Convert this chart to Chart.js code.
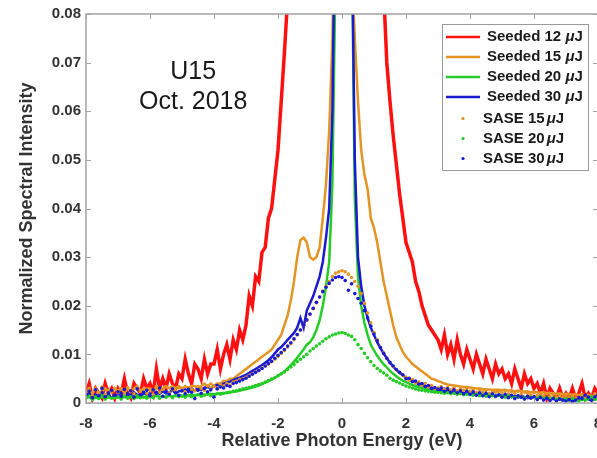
<!DOCTYPE html>
<html>
<head>
<meta charset="utf-8">
<script src="https://cdn.jsdelivr.net/npm/chart.js@4.4.1/dist/chart.umd.min.js"></script>
<style>
html,body{margin:0;padding:0;background:#fff;overflow:hidden;}
#wrap{position:relative;width:602px;height:458px;}
</style>
</head>
<body>
<div id="wrap"><canvas id="c"></canvas></div>
<script>
// ---- data ----
const energy = [
-8,-7.9,-7.8,-7.7,-7.6,-7.5,-7.4,-7.3,-7.2,-7.1,
-7,-6.9,-6.8,-6.7,-6.6,-6.5,-6.4,-6.3,-6.2,-6.1,
-6,-5.9,-5.8,-5.7,-5.6,-5.5,-5.4,-5.3,-5.2,-5.1,
-5,-4.9,-4.8,-4.7,-4.6,-4.5,-4.4,-4.3,-4.2,-4.1,
-4,-3.9,-3.8,-3.7,-3.6,-3.5,-3.4,-3.3,-3.2,-3.1,
-3,-2.9,-2.8,-2.7,-2.6,-2.5,-2.4,-2.3,-2.2,-2.1,
-2,-1.9,-1.8,-1.7,-1.6,-1.5,-1.4,-1.3,-1.2,-1.1,
-1,-0.9,-0.8,-0.7,-0.6,-0.5,-0.4,-0.3,-0.2,-0.1,
0,0.1,0.2,0.3,0.4,0.5,0.6,0.7,0.8,0.9,
1,1.1,1.2,1.3,1.4,1.5,1.6,1.7,1.8,1.9,
2,2.1,2.2,2.3,2.4,2.5,2.6,2.7,2.8,2.9,
3,3.1,3.2,3.3,3.4,3.5,3.6,3.7,3.8,3.9,
4,4.1,4.2,4.3,4.4,4.5,4.6,4.7,4.8,4.9,
5,5.1,5.2,5.3,5.4,5.5,5.6,5.7,5.8,5.9,
6,6.1,6.2,6.3,6.4,6.5,6.6,6.7,6.8,6.9,
7,7.1,7.2,7.3,7.4,7.5,7.6,7.7,7.8,7.9,8];

const seeded12 = [
0.002,0.004,0.001,0.003,0.002,0.001,0.004,0.002,0.003,0.001,
0.003,0.002,0.005,0.002,0.001,0.004,0.003,0.002,0.005,0.003,
0.004,0.002,0.007,0.003,0.005,0.003,0.006,0.004,0.003,0.006,
0.005,0.009,0.006,0.004,0.008,0.007,0.005,0.009,0.006,0.008,
0.008,0.011,0.007,0.010,0.012,0.009,0.013,0.011,0.015,0.013,
0.016,0.022,0.020,0.026,0.025,0.031,0.032,0.038,0.040,0.046,
0.052,0.062,0.072,0.083,0.095,0.11,0.12,0.13,0.15,0.16,
0.18,0.19,0.2,0.21,0.22,0.23,0.24,0.25,0.25,0.26,
0.26,0.26,0.25,0.24,0.22,0.2,0.18,0.16,0.14,0.13,
0.12,0.105,0.095,0.085,0.070,0.062,0.055,0.049,0.043,0.038,
0.033,0.031,0.029,0.025,0.023,0.020,0.018,0.016,0.015,0.014,
0.013,0.011,0.014,0.010,0.012,0.009,0.013,0.010,0.008,0.011,
0.009,0.007,0.010,0.008,0.006,0.009,0.007,0.005,0.008,0.006,
0.007,0.005,0.006,0.004,0.007,0.005,0.003,0.006,0.004,0.005,
0.003,0.004,0.002,0.004,0.001,0.003,0.002,0.001,0.003,0.001,
0.002,0.001,0.003,0.001,0.002,0.004,0.001,0.002,0.001,0.003,0.002];

const seeded15 = [
0.002,0.0025,0.002,0.003,0.002,0.0025,0.003,0.002,0.0025,0.003,
0.0025,0.003,0.002,0.003,0.0025,0.003,0.0035,0.0025,0.003,0.003,
0.003,0.0025,0.0035,0.003,0.003,0.0035,0.003,0.0035,0.003,0.0035,
0.003,0.0035,0.003,0.0035,0.0035,0.003,0.0035,0.004,0.0035,0.004,
0.0035,0.004,0.004,0.0045,0.0045,0.005,0.005,0.0055,0.006,0.0065,
0.007,0.0075,0.008,0.0085,0.009,0.0095,0.010,0.0105,0.011,0.012,
0.013,0.014,0.016,0.018,0.021,0.025,0.030,0.0335,0.034,0.033,
0.030,0.0295,0.030,0.032,0.038,0.045,0.056,0.075,0.11,0.15,
0.19,0.17,0.12,0.09,0.075,0.062,0.052,0.047,0.044,0.038,
0.036,0.033,0.029,0.025,0.022,0.019,0.016,0.0135,0.012,0.0105,
0.0095,0.0088,0.008,0.0075,0.007,0.0065,0.006,0.0055,0.005,0.0048,
0.0045,0.0043,0.004,0.0038,0.0037,0.0036,0.0035,0.0034,0.0033,0.0033,
0.0032,0.0031,0.003,0.003,0.0029,0.0028,0.0028,0.0027,0.0027,0.0027,
0.0026,0.0027,0.0025,0.0026,0.0024,0.0025,0.0024,0.0023,0.0024,0.0022,
0.0023,0.0022,0.0021,0.0022,0.002,0.0021,0.002,0.0019,0.002,0.0018,
0.0019,0.0018,0.0017,0.0018,0.0016,0.0017,0.0015,0.0016,0.0015,0.0014,0.0015];

const seeded20 = [
0.001,0.0012,0.0008,0.0011,0.001,0.0013,0.0009,0.0012,0.001,0.0011,
0.0012,0.001,0.0013,0.0011,0.0012,0.0014,0.0011,0.0013,0.0012,0.0014,
0.0013,0.0012,0.0015,0.0013,0.0014,0.0013,0.0015,0.0014,0.0015,0.0016,
0.0015,0.0016,0.0015,0.0017,0.0016,0.0017,0.0018,0.0017,0.0018,0.0019,
0.0018,0.0019,0.002,0.002,0.0021,0.0022,0.0023,0.0024,0.0025,0.0027,
0.0028,0.003,0.0032,0.0034,0.0036,0.0039,0.0042,0.0045,0.0048,0.0052,
0.0056,0.006,0.0065,0.0071,0.0078,0.0085,0.0093,0.0102,0.011,0.012,
0.0125,0.0135,0.015,0.017,0.020,0.024,0.029,0.045,0.09,0.15,
0.2,0.2,0.17,0.10,0.042,0.026,0.020,0.0165,0.014,0.012,
0.0108,0.0097,0.0088,0.008,0.0073,0.0066,0.006,0.0055,0.005,0.0046,
0.0043,0.004,0.0037,0.0035,0.0033,0.0031,0.0029,0.0028,0.0027,0.0026,
0.0025,0.0024,0.0023,0.0022,0.0022,0.0021,0.002,0.002,0.0019,0.0019,
0.0018,0.0018,0.0017,0.0018,0.0017,0.0016,0.0017,0.0016,0.0015,0.0016,
0.0015,0.0014,0.0015,0.0014,0.0013,0.0014,0.0013,0.0012,0.0013,0.0012,
0.0012,0.0011,0.0012,0.001,0.0011,0.001,0.0009,0.001,0.0009,0.0008,
0.0009,0.0008,0.0007,0.0008,0.0007,0.0006,0.0007,0.0008,0.0006,0.0007,0.0008];

const seeded30 = [
0.0015,0.002,0.001,0.0018,0.0012,0.0022,0.0014,0.0019,0.001,0.0017,
0.0016,0.0021,0.0013,0.0019,0.0015,0.0022,0.0017,0.0014,0.002,0.0018,
0.002,0.0016,0.0023,0.0019,0.0024,0.002,0.0022,0.0026,0.002,0.0024,
0.0025,0.0028,0.0023,0.0029,0.0026,0.003,0.0027,0.0031,0.0033,0.003,
0.0034,0.0037,0.0036,0.004,0.0042,0.0044,0.0047,0.005,0.0052,0.0055,
0.0058,0.0062,0.0066,0.007,0.0074,0.0078,0.0083,0.0088,0.0094,0.0102,
0.011,0.0115,0.0122,0.013,0.0137,0.0144,0.0155,0.0175,0.0155,0.019,
0.0205,0.022,0.024,0.026,0.029,0.034,0.040,0.060,0.11,0.18,
0.22,0.2,0.15,0.10,0.05,0.030,0.024,0.020,0.0175,0.0155,
0.014,0.0125,0.0113,0.0102,0.0092,0.0083,0.0075,0.0068,0.0062,0.0057,
0.0052,0.0048,0.0045,0.0042,0.0039,0.0037,0.0035,0.0033,0.0031,0.003,
0.0028,0.0027,0.003,0.0025,0.0024,0.0026,0.0022,0.0023,0.002,0.0022,
0.002,0.0018,0.0021,0.0017,0.0019,0.0015,0.0018,0.0016,0.0014,0.0017,
0.0015,0.0013,0.0016,0.0012,0.0014,0.0011,0.0015,0.0012,0.001,0.0013,
0.0011,0.0009,0.0012,0.0008,0.001,0.0007,0.0009,0.0006,0.0008,0.0007,
0.0005,0.0008,0.0004,0.0006,0.0009,0.0012,0.0015,0.0008,0.0005,0.0011,0.0014];

const sase15 = [
0.0025,0.003,0.0015,0.0028,0.002,0.0033,0.0018,0.0026,0.0022,0.003,
0.0021,0.0029,0.0017,0.0032,0.0024,0.0019,0.0031,0.0023,0.0027,0.002,
0.0026,0.0018,0.003,0.0022,0.0028,0.0033,0.0021,0.0027,0.0025,0.0031,
0.0027,0.0023,0.0032,0.0028,0.0025,0.0034,0.003,0.0026,0.0035,0.0031,
0.0034,0.003,0.0038,0.0035,0.004,0.0037,0.0043,0.0045,0.0048,0.005,
0.0053,0.0057,0.006,0.0064,0.0067,0.0072,0.0076,0.008,0.0085,0.009,
0.0096,0.0102,0.0108,0.0115,0.0122,0.013,0.014,0.015,0.016,0.017,
0.0182,0.0194,0.0206,0.0218,0.023,0.024,0.025,0.026,0.0267,0.027,
0.0272,0.027,0.0265,0.0258,0.025,0.024,0.0225,0.0205,0.0185,0.0165,
0.0145,0.013,0.0115,0.0103,0.0092,0.0083,0.0075,0.0068,0.0062,0.0057,
0.0053,0.0047,0.0048,0.0041,0.0043,0.0036,0.004,0.0033,0.0036,0.003,
0.0031,0.0034,0.0028,0.0032,0.0027,0.0031,0.0025,0.0029,0.0026,0.003,
0.0024,0.0028,0.0022,0.0027,0.0023,0.0026,0.002,0.0025,0.0022,0.0024,
0.0021,0.0025,0.0019,0.0023,0.002,0.0024,0.0018,0.0022,0.002,0.0017,
0.0021,0.0016,0.002,0.0015,0.0019,0.0014,0.0018,0.0013,0.0017,0.0012,
0.0016,0.0011,0.0015,0.001,0.0014,0.0017,0.0012,0.0016,0.0011,0.0019,0.0015];

const sase20 = [
0.001,0.0014,0.0007,0.0012,0.0009,0.0015,0.0008,0.0013,0.001,0.0011,
0.0012,0.0008,0.0014,0.001,0.0013,0.0009,0.0015,0.0011,0.0012,0.001,
0.0013,0.0011,0.0015,0.001,0.0014,0.0012,0.0016,0.0011,0.0015,0.0013,
0.0014,0.0012,0.0016,0.0013,0.0015,0.0017,0.0014,0.0016,0.0018,0.0015,
0.0017,0.0019,0.0018,0.002,0.0021,0.0022,0.0024,0.0025,0.0027,0.0029,
0.003,0.0032,0.0034,0.0036,0.0038,0.004,0.0043,0.0046,0.0049,0.0052,
0.0056,0.006,0.0064,0.0069,0.0074,0.0079,0.0085,0.009,0.0095,0.01,
0.0107,0.0112,0.0117,0.0122,0.0127,0.0132,0.0136,0.014,0.0142,0.0144,
0.0145,0.0143,0.014,0.0137,0.013,0.012,0.0112,0.0102,0.0093,0.0085,
0.0077,0.0071,0.0066,0.0062,0.0057,0.0051,0.0047,0.0044,0.0041,0.0038,
0.0035,0.0033,0.0031,0.0029,0.0027,0.0026,0.0025,0.0024,0.0023,0.0022,
0.0022,0.0021,0.002,0.0021,0.0019,0.002,0.0018,0.0019,0.0017,0.0018,
0.0017,0.0016,0.0018,0.0015,0.0017,0.0014,0.0016,0.0015,0.0013,0.0016,
0.0014,0.0012,0.0015,0.0013,0.0011,0.0014,0.0012,0.001,0.0013,0.0011,
0.0012,0.001,0.0013,0.0009,0.0011,0.0008,0.001,0.0007,0.0009,0.0006,
0.0008,0.0005,0.0009,0.0007,0.0004,0.0008,0.0006,0.001,0.0012,0.0007,0.0009];

const sase30 = [
0.0018,0.0024,0.0011,0.0027,0.0015,0.003,0.0013,0.0021,0.0026,0.0016,
0.0023,0.0014,0.0028,0.0019,0.0025,0.0012,0.0029,0.0017,0.0022,0.0026,
0.0015,0.0027,0.002,0.0031,0.0014,0.0024,0.0018,0.0029,0.0021,0.0016,
0.0025,0.0019,0.0028,0.0022,0.0009,0.0026,0.002,0.003,0.0023,0.0027,
0.0012,0.0029,0.0033,0.0031,0.0036,0.0034,0.004,0.0042,0.0045,0.0048,
0.0051,0.0055,0.0059,0.0063,0.0067,0.0071,0.0076,0.0081,0.0086,0.0092,
0.0098,0.0104,0.011,0.0117,0.0124,0.0132,0.0141,0.015,0.016,0.0171,
0.0183,0.0195,0.0207,0.0218,0.0229,0.0238,0.0246,0.0253,0.0258,0.026,
0.0258,0.0252,0.0232,0.0245,0.0225,0.0215,0.0205,0.019,0.0175,0.0158,
0.0142,0.0128,0.0114,0.0102,0.0092,0.0083,0.0076,0.0069,0.0063,0.0058,
0.005,0.0051,0.0044,0.0045,0.0039,0.004,0.0034,0.0036,0.003,0.0032,
0.0028,0.0031,0.0024,0.0029,0.0022,0.0027,0.0021,0.0025,0.0019,0.0024,
0.0018,0.0023,0.0016,0.0021,0.0015,0.002,0.0013,0.0019,0.0014,0.0017,
0.0012,0.0018,0.0011,0.0016,0.0009,0.0015,0.0012,0.0008,0.0014,0.001,
0.0013,0.0007,0.0011,0.0006,0.001,0.0005,0.0009,0.0004,0.0008,0.0006,
0.0004,0.0007,0.0003,0.0006,0.0011,0.0009,0.0016,0.0012,0.0006,0.0013,0.0017];

const xTicks = [-8,-6,-4,-2,0,2,4,6,8];
const yTicks = [0,0.01,0.02,0.03,0.04,0.05,0.06,0.07,0.08];
const seriesLabels = ['Seeded 12 ','Seeded 15 ','Seeded 20 ','Seeded 30 ','SASE 15','SASE 20','SASE 30'];
const annotationLines = ['U15','Oct. 2018'];

// ---- styles ----
const C = {red:'#ff1010', orange:'#e39423', green:'#26cc26', blue:'#1a1ad2'};
const FONT = "'Liberation Sans', Arial, Helvetica, sans-serif";
const pts = vals => energy.map((x,i)=>({x:x, y:vals[i]}));
function lineDs(label, vals, color, order, w){
  return {label, data:pts(vals), showLine:true, borderColor:color, backgroundColor:color,
          borderWidth:w, pointRadius:0, order, clip:0, tension:0, isLine:true};
}
function dotDs(label, vals, color, order){
  return {label, data:pts(vals), showLine:false, backgroundColor:color, borderColor:color,
          borderWidth:0, pointRadius:1.8, order, clip:0, isLine:false};
}

const frame = {
  id:'frame',
  afterDatasetsDraw(chart){
    const {ctx, chartArea:a, scales:{x,y}} = chart;
    ctx.save();
    ctx.strokeStyle = '#a3a3a3';
    ctx.lineWidth = 1;
    const L = 5;
    xTicks.forEach(v=>{
      const px = Math.round(x.getPixelForValue(v))+0.5;
      ctx.beginPath(); ctx.moveTo(px,a.bottom); ctx.lineTo(px,a.bottom-L);
      ctx.moveTo(px,a.top); ctx.lineTo(px,a.top+L); ctx.stroke();
    });
    yTicks.forEach(v=>{
      const py = Math.round(y.getPixelForValue(v))+0.5;
      ctx.beginPath(); ctx.moveTo(a.left,py); ctx.lineTo(a.left+L,py);
      ctx.moveTo(a.right,py); ctx.lineTo(a.right-L,py); ctx.stroke();
    });
    ctx.lineWidth = 1.5;
    ctx.strokeRect(a.left, a.top, a.right-a.left, a.bottom-a.top);

    // annotation
    ctx.fillStyle = '#1a1a1a';
    ctx.font = "25px " + FONT;
    ctx.textAlign = 'center'; ctx.textBaseline = 'middle';
    const ax = x.getPixelForValue(-4.65);
    ctx.fillText(annotationLines[0], ax, y.getPixelForValue(0.0680));
    ctx.fillText(annotationLines[1], ax, y.getPixelForValue(0.0618));

    // legend
    const bw = 146, bh = 146;
    const bx = a.right - 10 - bw, by = a.top + 10;
    ctx.fillStyle = '#fff';
    ctx.fillRect(bx, by, bw, bh);
    ctx.strokeStyle = '#9a9a9a'; ctx.lineWidth = 1;
    ctx.strokeRect(bx+0.5, by+0.5, bw, bh);
    ctx.textAlign = 'left';
    chart.data.datasets.forEach((ds,i)=>{
      const ry = by + 13 + i*20 + (i>=4 ? 1.5 : 0);
      let tx;
      if (ds.isLine){
        ctx.strokeStyle = ds.borderColor; ctx.lineWidth = 2.5;
        ctx.beginPath(); ctx.moveTo(bx+4, ry); ctx.lineTo(bx+38, ry); ctx.stroke();
        tx = bx + 45;
      } else {
        ctx.fillStyle = ds.backgroundColor;
        ctx.beginPath(); ctx.arc(bx+21, ry, 1.6, 0, Math.PI*2); ctx.fill();
        tx = bx + 41;
      }
      ctx.fillStyle = '#1a1a1a';
      ctx.font = "bold 15px " + FONT;
      ctx.fillText(ds.label, tx, ry);
      tx += ctx.measureText(ds.label).width + (ds.isLine ? 0 : 2);
      ctx.font = "italic bold 15px " + FONT;
      ctx.fillText('\u03bc', tx, ry);
      tx += ctx.measureText('\u03bc').width;
      ctx.font = "bold 15px " + FONT;
      ctx.fillText('J', tx, ry);
    });
    ctx.restore();
  }
};

new Chart(document.getElementById('c'), {
  type:'scatter',
  data:{datasets:[
    lineDs(seriesLabels[0], seeded12, C.red, 7, 3.5),
    lineDs(seriesLabels[1], seeded15, C.orange, 6, 2.5),
    lineDs(seriesLabels[2], seeded20, C.green, 5, 2.5),
    lineDs(seriesLabels[3], seeded30, C.blue, 4, 2.5),
    dotDs(seriesLabels[4], sase15, C.orange, 3),
    dotDs(seriesLabels[5], sase20, C.green, 2),
    dotDs(seriesLabels[6], sase30, C.blue, 1)
  ]},
  options:{
    responsive:true, maintainAspectRatio:false, animation:false, devicePixelRatio:1,
    layout:{padding:{top:14, right:2, left:0, bottom:0}},
    plugins:{legend:{display:false}, tooltip:{enabled:false}},
    scales:{
      x:{type:'linear', min:-8, max:8,
         afterBuildTicks(s){ s.ticks = xTicks.map(v=>({value:v})); },
         afterFit(s){ s.height = 55; s.paddingLeft = 0; s.paddingRight = 0; },
         grid:{display:false, drawTicks:false}, border:{display:false},
         ticks:{color:'#333', padding:12, font:{family:FONT, size:15, weight:'bold'}, callback:v=>String(v)},
         title:{display:true, text:'Relative Photon Energy (eV)', color:'#333',
                font:{family:FONT, size:18, weight:'bold'}, padding:{top:6,bottom:6}}},
      y:{type:'linear', min:0, max:0.08,
         afterBuildTicks(s){ s.ticks = yTicks.map(v=>({value:v})); },
         afterFit(s){ s.width = 86; s.paddingTop = 0; s.paddingBottom = 0; },
         grid:{display:false, drawTicks:false}, border:{display:false},
         ticks:{color:'#333', padding:5, font:{family:FONT, size:15, weight:'bold'},
                callback:v=> v===0 ? '0' : v.toFixed(2)},
         title:{display:true, text:'Normalized Spectral Intensity', color:'#333',
                font:{family:FONT, size:18, weight:'bold'}, padding:{top:16,bottom:16}}}
    }
  },
  plugins:[frame]
});
</script>
</body>
</html>
